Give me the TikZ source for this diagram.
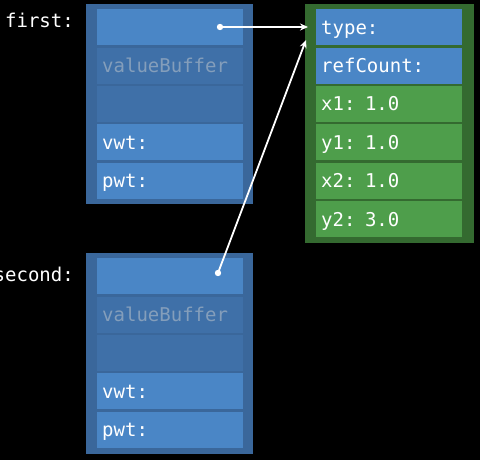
\documentclass[tikz,border=0pt]{standalone}
\usepackage{fontspec}
\setmonofont{DejaVu Sans Mono}
\usetikzlibrary{arrows.meta,calc}
\definecolor{bgc}{HTML}{000000}
\definecolor{outerblue}{HTML}{3A679B}
\definecolor{cellblue}{HTML}{4A86C6}
\definecolor{darkblue}{HTML}{3F70A8}
\definecolor{outergreen}{HTML}{346A30}
\definecolor{cellgreen}{HTML}{4E9E4B}
\definecolor{dimtext}{HTML}{849EBB}
\tikzset{
  cellbox/.style={rectangle, anchor=north west, minimum width=146pt, minimum height=36pt,
    inner xsep=5pt, inner ysep=0pt, text width=136pt, align=left,
    text height=14pt, text depth=0pt, text=white,
    font=\ttfamily\fontsize{19pt}{22pt}\selectfont},
  bluecell/.style={cellbox, fill=cellblue},
  dimcell/.style={cellbox, fill=darkblue, text=dimtext},
  greencell/.style={cellbox, fill=cellgreen},
  outerbox/.style={rectangle, anchor=north west, inner sep=0pt},
  varlabel/.style={anchor=base east, text=white, inner sep=0pt,
    font=\ttfamily\fontsize{19pt}{22pt}\selectfont},
  pointer/.style={white, line width=1.8pt, -{Stealth[length=8pt,width=7pt]}},
  dot/.style={white}
}
\begin{document}
\begin{tikzpicture}[x=1pt,y=-1pt]
\useasboundingbox[fill=bgc] (0,0) rectangle (480,460);
% outer boxes
\node[outerbox, fill=outerblue, minimum width=167pt, minimum height=200pt] (fbox) at (86,4) {};
\node[outerbox, fill=outerblue, minimum width=167pt, minimum height=201pt] (sbox) at (86,253) {};
\node[outerbox, fill=outergreen, minimum width=169pt, minimum height=239pt] (rbox) at (305,4) {};
% first
\node[bluecell] (f1) at (97,9) {};
\node[dimcell] (f2) at (97,47.4) {valueBuffer};
\node[dimcell] (f3) at (97,85.8) {};
\node[bluecell] (f4) at (97,124.2) {vwt:};
\node[bluecell] (f5) at (97,162.6) {pwt:};
% second
\node[bluecell] (s1) at (97,258) {};
\node[dimcell] (s2) at (97,296.4) {valueBuffer};
\node[dimcell] (s3) at (97,334.8) {};
\node[bluecell] (s4) at (97,373.2) {vwt:};
\node[bluecell] (s5) at (97,411.6) {pwt:};
% right object
\node[bluecell] (r1) at (316,9) {type:};
\node[bluecell] (r2) at (316,47.4) {refCount:};
\node[greencell] (r3) at (316,85.8) {x1: 1.0};
\node[greencell] (r4) at (316,124.2) {y1: 1.0};
\node[greencell] (r5) at (316,162.6) {x2: 1.0};
\node[greencell] (r6) at (316,201) {y2: 3.0};
% labels
\node[varlabel] (lfirst) at (74,28) {first:};
\node[varlabel] (lsecond) at (74,281) {second:};
% pointers
\coordinate (d1) at (220,27);
\coordinate (d2) at (218,273);
\coordinate (t1) at (308,27);
\coordinate (t2) at (306,40);
\draw[pointer] (d1) -- (t1);
\draw[pointer] (d2) -- (t2);
\fill[dot] (d1) circle (3.2);
\fill[dot] (d2) circle (3.2);
\end{tikzpicture}
\end{document}
